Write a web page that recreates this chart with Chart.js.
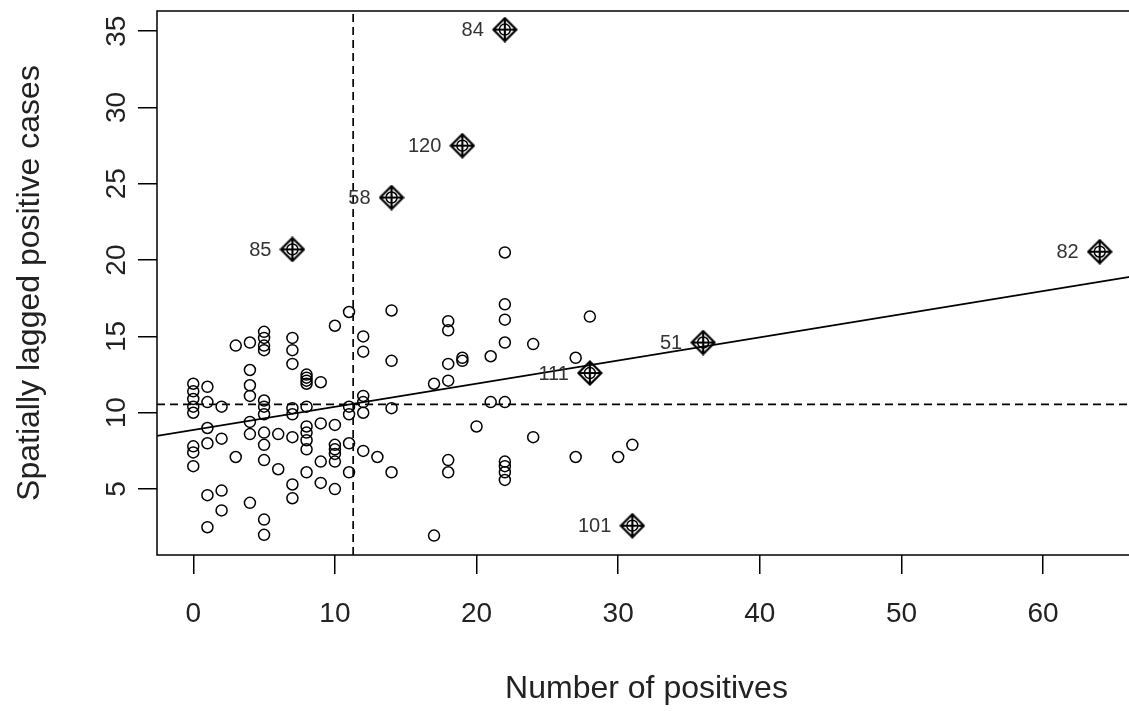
<!DOCTYPE html>
<html lang="en">
<head>
<meta charset="UTF-8" />
<title>Moran scatterplot - positives</title>
<style>
  html, body { margin: 0; padding: 0; background: #fff; overflow: hidden; }
  #wrap { width: 1140px; height: 711px; }
</style>
</head>
<body>
<div id="wrap"><canvas id="moran" width="1140" height="711"></canvas></div>

<script src="https://cdn.jsdelivr.net/npm/chart.js"></script>
<script>
  // number of positives per area and the spatially lagged value of its neighbours
  const positives = [
    0, 0, 0, 0, 0, 0, 0, 0,
    1, 1, 1, 1, 1, 1,
    2, 2, 2, 2,
    3, 3,
    4, 4, 4, 4, 4, 4, 4,
    5, 5, 5, 5, 5, 5, 5, 5, 5, 5, 5, 5,
    6, 6,
    7, 7, 7, 7, 7, 7, 7, 7,
    8, 8, 8, 8, 8, 8, 8, 8, 8, 8,
    9, 9, 9, 9,
    10, 10, 10, 10, 10, 10, 10,
    11, 11, 11, 11, 11,
    12, 12, 12, 12, 12, 12,
    13,
    14, 14, 14, 14,
    17, 17,
    18, 18, 18, 18, 18, 18,
    19, 19,
    20,
    21, 21,
    22, 22, 22, 22, 22, 22, 22, 22, 22,
    24, 24,
    27, 27,
    28,
    30,
    31
  ];
  const lagged = [
    11.9, 11.4, 10.9, 10.4, 10.0, 7.8, 7.4, 6.5,
    11.7, 10.7, 9.0, 8.0, 4.6, 2.5,
    10.4, 8.3, 4.9, 3.6,
    14.4, 7.1,
    14.6, 12.8, 11.8, 11.1, 9.4, 8.6, 4.1,
    15.3, 14.9, 14.4, 14.1, 10.8, 10.4, 9.9, 8.7, 7.9, 6.9, 3.0, 2.0,
    8.6, 6.3,
    14.9, 14.1, 13.2, 10.3, 9.9, 8.4, 5.3, 4.4,
    12.5, 12.3, 12.1, 11.9, 10.4, 9.1, 8.7, 8.2, 7.6, 6.1,
    12.0, 9.3, 6.8, 5.4,
    15.7, 9.2, 7.9, 7.6, 7.3, 6.8, 5.0,
    16.6, 10.4, 9.9, 8.0, 6.1,
    15.0, 14.0, 11.1, 10.7, 10.0, 7.5,
    7.1,
    16.7, 13.4, 10.3, 6.1,
    11.9, 1.95,
    16.0, 15.4, 13.2, 12.1, 6.9, 6.1,
    13.6, 13.4,
    9.1,
    13.7, 10.7,
    20.5, 17.1, 16.1, 14.6, 10.7, 6.8, 6.5, 6.1, 5.6,
    14.5, 8.4,
    13.6, 7.1,
    16.3,
    7.1,
    7.9
  ];

  // influential areas (diamond markers + id labels)
  const inflIds = ["84", "120", "58", "85", "82", "51", "111", "101"];
  const inflX = [22, 19, 14, 7, 64, 36, 28, 31];
  const inflY = [35.1, 27.5, 24.1, 20.7, 20.55, 14.6, 12.6, 2.6];

  // means (dashed) and the fitted line ends
  const meanX = 11.29;
  const meanY = 10.55;
  const fitX = [-2.56, 66.56];
  const fitY = [8.48, 18.97];

  const xTicks = [0, 10, 20, 30, 40, 50, 60];
  const yTicks = [5, 10, 15, 20, 25, 30, 35];
  const xRange = [-2.56, 66.56];
  const yRange = [0.68, 36.32];

  const FONT = "'Liberation Sans', Arial, Helvetica, sans-serif";
  Chart.defaults.font.family = FONT;

  function diamondPlus(size) {
    const c = document.createElement("canvas");
    c.width = c.height = size;
    const g = c.getContext("2d");
    const m = size / 2, r = size / 2 - 1.5;
    g.strokeStyle = "#000";
    g.lineWidth = 2.2;
    g.beginPath();
    g.moveTo(m, m - r); g.lineTo(m + r, m); g.lineTo(m, m + r); g.lineTo(m - r, m); g.closePath();
    g.moveTo(m, m - r); g.lineTo(m, m + r);
    g.moveTo(m - r, m); g.lineTo(m + r, m);
    g.stroke();
    return c;
  }

  const allPts = positives.map((v, i) => ({ x: v, y: lagged[i] }))
    .concat(inflX.map((v, i) => ({ x: v, y: inflY[i] })));
  const inflPts = inflX.map((v, i) => ({ x: v, y: inflY[i] }));

  // box around the plot region + id labels next to influential points
  const frame = {
    id: "frame",
    afterDatasetsDraw(chart) {
      const { ctx, chartArea: a, scales: { x, y } } = chart;
      ctx.save();
      ctx.strokeStyle = "#000";
      ctx.lineWidth = 1.5;
      ctx.strokeRect(a.left, a.top, a.right - a.left, a.bottom - a.top);
      ctx.font = "20px " + FONT;
      ctx.fillStyle = "#333";
      ctx.textAlign = "right";
      ctx.textBaseline = "middle";
      inflIds.forEach((id, i) => {
        ctx.fillText(id, x.getPixelForValue(inflX[i]) - 21, y.getPixelForValue(inflY[i]) + 1);
      });
      ctx.restore();
    }
  };

  new Chart(document.getElementById("moran"), {
    type: "scatter",
    data: {
      datasets: [
        {
          data: allPts,
          pointStyle: "circle",
          pointRadius: 5.5,
          pointBorderWidth: 1.5,
          pointBorderColor: "#000",
          pointBackgroundColor: "rgba(0,0,0,0)",
          order: 3
        },
        {
          type: "line",
          data: fitX.map((v, i) => ({ x: v, y: fitY[i] })),
          borderColor: "#000",
          borderWidth: 1.7,
          pointRadius: 0,
          order: 2
        },
        {
          type: "line",
          data: [{ x: meanX, y: yRange[0] }, { x: meanX, y: yRange[1] }],
          borderColor: "#000",
          borderWidth: 1.7,
          borderDash: [8, 5],
          pointRadius: 0,
          order: 2
        },
        {
          type: "line",
          data: [{ x: xRange[0], y: meanY }, { x: xRange[1], y: meanY }],
          borderColor: "#000",
          borderWidth: 1.7,
          borderDash: [8, 5],
          pointRadius: 0,
          order: 2
        },
        {
          data: inflPts,
          pointStyle: diamondPlus(26),
          pointRadius: 13,
          order: 1
        }
      ]
    },
    options: {
      responsive: false,
      animation: false,
      events: [],
      layout: { autoPadding: false, padding: { top: 11, right: 4, left: 0, bottom: 0 } },
      plugins: { legend: { display: false }, tooltip: { enabled: false } },
      scales: {
        x: {
          type: "linear",
          min: xRange[0],
          max: xRange[1],
          afterBuildTicks: s => { s.ticks = xTicks.map(v => ({ value: v })); },
          afterFit: s => { s.height = 156; s.paddingLeft = 0; s.paddingRight = 0; },
          grid: { drawOnChartArea: false, drawTicks: true, tickLength: 19, color: "#000", lineWidth: 1.5 },
          border: { display: false },
          ticks: { font: { size: 28 }, color: "#222", padding: 23, maxRotation: 0, autoSkip: false },
          title: { display: true, text: "Number of positives", font: { size: 32 }, color: "#222", padding: { top: 0, bottom: 3 } }
        },
        y: {
          type: "linear",
          min: yRange[0],
          max: yRange[1],
          afterBuildTicks: s => { s.ticks = yTicks.map(v => ({ value: v })); },
          afterFit: s => { s.width = 157; s.paddingTop = 0; s.paddingBottom = 0; },
          grid: { drawOnChartArea: false, drawTicks: true, tickLength: 19, color: "#000", lineWidth: 1.5 },
          border: { display: false },
          ticks: { font: { size: 28 }, color: "#222", padding: 5, minRotation: 90, maxRotation: 90, crossAlign: "center", autoSkip: false },
          title: { display: true, text: "Spatially lagged positive cases", font: { size: 32 }, color: "#222", padding: { top: 11, bottom: 0 } }
        }
      }
    },
    plugins: [frame]
  });
</script>
</body>
</html>
